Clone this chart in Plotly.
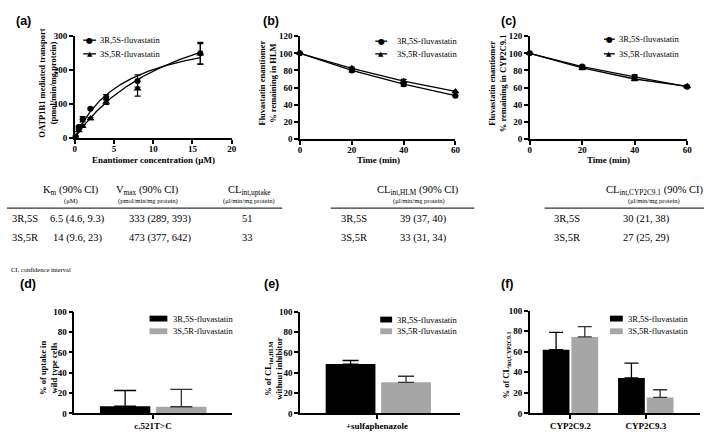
import numpy as np
import plotly.graph_objects as go

W, H = 709, 433
SERIF = "Liberation Serif, Times New Roman, serif"
SANS = "Liberation Sans, Arial, sans-serif"
GRAY = "#a6a6a6"

# ---------------- data ----------------
series_names = ["3R,5S-fluvastatin", "3S,5R-fluvastatin"]

# (a) OATP1B1 uptake
conc_uM = [0.1, 0.5, 1, 2, 4, 8, 16]
uptake_3R5S = [4, 32, 55, 86, 120, 168, 250]
uptake_3R5S_err = [2, 3, 8, 3, 8, 18, 32]
uptake_3S5R = [2, 22, 35, 57, 106, 145, 248]
uptake_3S5R_err = [1, 3, 4, 3, 7, 22, 30]
km_uM = [6.5, 14]
vmax = [333, 473]

# (b) HLM depletion
time_min = [0, 20, 40, 60]
hlm_3R5S = [100, 80, 64, 50.5]
hlm_3R5S_err = [0, 2, 2.5, 1.5]
hlm_3S5R = [100, 82.5, 67.5, 55.5]
hlm_3S5R_err = [0, 1.5, 2, 1]

# (c) CYP2C9.1 depletion
cyp_3R5S = [100, 84.5, 72.5, 61]
cyp_3R5S_err = [0, 1.5, 2.5, 1.5]
cyp_3S5R = [100, 83, 70, 61.5]
cyp_3S5R_err = [0, 2, 2, 1.5]

# (d) variant uptake
d_cat = ["c.521T>C"]
d_3R5S = [7]
d_3R5S_err = [15.5]
d_3S5R = [6.5]
d_3S5R_err = [17]

# (e) inhibitor
e_cat = ["+sulfaphenazole"]
e_3R5S = [48.5]
e_3R5S_err = [3.5]
e_3S5R = [30.5]
e_3S5R_err = [6]

# (f) CYP2C9 variants
f_cat = ["CYP2C9.2", "CYP2C9.3"]
f_3R5S = [62, 34.5]
f_3R5S_err = [17, 14.5]
f_3S5R = [74.5, 15.5]
f_3S5R_err = [10, 7.5]

# tables
row_labels = ["3R,5S", "3S,5R"]
tab_a_km = ["6.5 (4.6, 9.3)", "14 (9.6, 23)"]
tab_a_vmax = ["333 (289, 393)", "473 (377, 642)"]
tab_a_cl = ["51", "33"]
tab_b_cl = ["39 (37, 40)", "33 (31, 34)"]
tab_c_cl = ["30 (21, 38)", "27 (25, 29)"]

# ---------------- helpers ----------------
def fx(px):
    return px / W

def fy(py):
    return 1 - py / H

annotations = []
shapes = []

def ann(text, x, y, size=9, xanchor="center", yanchor="middle", family=SERIF,
        bold=False, angle=0, color="black"):
    if bold:
        text = "<b>" + text + "</b>"
    annotations.append(dict(text=text, x=fx(x), y=fy(y), xref="paper", yref="paper",
                            xanchor=xanchor, yanchor=yanchor, showarrow=False,
                            textangle=angle,
                            font=dict(family=family, size=size, color=color)))

def hline(x0, x1, y, width=1.2, color="#333"):
    shapes.append(dict(type="line", xref="paper", yref="paper", x0=fx(x0), x1=fx(x1),
                       y0=fy(y), y1=fy(y), line=dict(color=color, width=width)))

def rect(x0, x1, y0, y1, color):
    shapes.append(dict(type="rect", xref="paper", yref="paper", x0=fx(x0), x1=fx(x1),
                       y0=fy(y1), y1=fy(y0), fillcolor=color, line=dict(width=0)))

def axis_style(domain, rng=None, tickvals=None, **kw):
    d = dict(domain=domain, showline=True, linecolor="black", linewidth=1.5,
             ticks="outside", ticklen=4, tickwidth=1.5, tickcolor="black",
             showgrid=False, zeroline=False, fixedrange=True,
             tickfont=dict(family=SERIF, size=9, color="black", weight="bold"))
    if rng is not None:
        d["range"] = rng
    if tickvals is not None:
        d["tickvals"] = tickvals
    d.update(kw)
    return d

fig = go.Figure()

def err(arr, w=3, color="black"):
    return dict(type="data", array=arr, visible=True, color=color, thickness=1.2, width=w)

# ---------------- (a) ----------------
fig.add_trace(go.Scatter(x=conc_uM, y=uptake_3R5S, mode="markers", xaxis="x", yaxis="y",
                         marker=dict(symbol="circle", size=6, color="black"),
                         error_y=err(uptake_3R5S_err), cliponaxis=False, showlegend=False))
fig.add_trace(go.Scatter(x=conc_uM, y=uptake_3S5R, mode="markers", xaxis="x", yaxis="y",
                         marker=dict(symbol="triangle-up", size=7, color="black"),
                         error_y=err(uptake_3S5R_err), cliponaxis=False, showlegend=False))
xfit = np.linspace(0, max(conc_uM), 200)
for km, vm in zip(km_uM, vmax):
    fig.add_trace(go.Scatter(x=xfit, y=vm * xfit / (km + xfit), mode="lines",
                             xaxis="x", yaxis="y", line=dict(color="black", width=1.3),
                             showlegend=False, hoverinfo="skip"))

# ---------------- (b) & (c) ----------------
for xa, ya, s1, e1, s2, e2 in [("x2", "y2", hlm_3R5S, hlm_3R5S_err, hlm_3S5R, hlm_3S5R_err),
                               ("x3", "y3", cyp_3R5S, cyp_3R5S_err, cyp_3S5R, cyp_3S5R_err)]:
    fig.add_trace(go.Scatter(x=time_min, y=s1, mode="lines+markers", xaxis=xa, yaxis=ya,
                             marker=dict(symbol="circle", size=6, color="black"),
                             line=dict(color="black", width=1.3),
                             error_y=err(e1), cliponaxis=False, showlegend=False))
    fig.add_trace(go.Scatter(x=time_min, y=s2, mode="lines+markers", xaxis=xa, yaxis=ya,
                             marker=dict(symbol="triangle-up", size=7, color="black"),
                             line=dict(color="black", width=1.3),
                             error_y=err(e2), cliponaxis=False, showlegend=False))

# ---------------- bars (d), (e), (f) ----------------
def bar_pair(xa, ya, cats, v1, e1, v2, e2, width, off1, off2, capw):
    fig.add_trace(go.Bar(x=cats, y=v1, xaxis=xa, yaxis=ya, marker=dict(color="black", line=dict(width=0)),
                         width=[width] * len(cats), offset=[off1] * len(cats),
                         error_y=dict(type="data", symmetric=False, array=e1, arrayminus=[0] * len(cats),
                                      color="black", thickness=1.3, width=capw),
                         showlegend=False))
    fig.add_trace(go.Bar(x=cats, y=v2, xaxis=xa, yaxis=ya, marker=dict(color=GRAY, line=dict(width=0)),
                         width=[width] * len(cats), offset=[off2] * len(cats),
                         error_y=dict(type="data", symmetric=False, array=e2, arrayminus=[0] * len(cats),
                                      color="#333", thickness=1.3, width=capw),
                         showlegend=False))

bar_pair("x4", "y4", d_cat, d_3R5S, d_3R5S_err, d_3S5R, d_3S5R_err, 0.32, -0.337, 0.02, 11)
bar_pair("x5", "y5", e_cat, e_3R5S, e_3R5S_err, e_3S5R, e_3S5R_err, 0.31, -0.32, 0.026, 8)
bar_pair("x6", "y6", f_cat, f_3R5S, f_3R5S_err, f_3S5R, f_3S5R_err, 0.355, -0.368, 0.013, 7)

# ---------------- axes ----------------
layout_axes = dict(
    xaxis=axis_style([fx(73.5), fx(232)], [0, 20], [0, 5, 10, 15, 20], anchor="y", ticklabelstandoff=-2),
    yaxis=axis_style([fy(136), fy(32)], [0, 300], [0, 100, 200, 300], anchor="x"),
    xaxis2=axis_style([fx(301), fx(458)], [0, 60], [0, 20, 40, 60], anchor="y2", ticklabelstandoff=-2),
    yaxis2=axis_style([fy(137), fy(32)], [0, 120], [0, 20, 40, 60, 80, 100, 120], anchor="x2"),
    xaxis3=axis_style([fx(533), fx(692)], [0, 60], [0, 20, 40, 60], anchor="y3", ticklabelstandoff=-2),
    yaxis3=axis_style([fy(137), fy(32)], [0, 120], [0, 20, 40, 60, 80, 100, 120], anchor="x3"),
    xaxis4=axis_style([fx(73), fx(232)], [-0.5, 0.5], None, anchor="y4", type="category", ticklabelstandoff=-1),
    yaxis4=axis_style([fy(418), fy(314)], [0, 100], [0, 20, 40, 60, 80, 100], anchor="x4"),
    xaxis5=axis_style([fx(301), fx(463)], [-0.48, 0.52], None, anchor="y5", type="category", ticklabelstandoff=-1),
    yaxis5=axis_style([fy(418), fy(314)], [0, 100], [0, 20, 40, 60, 80, 100], anchor="x5"),
    xaxis6=axis_style([fx(533), fx(705)], [-0.54, 1.72], None, anchor="y6", type="category", ticklabelstandoff=-1),
    yaxis6=axis_style([fy(418), fy(313)], [0, 100], [0, 20, 40, 60, 80, 100], anchor="x6"),
)

# ---------------- axis titles ----------------
ann("OATP1B1 mediated transport<br>(pmol/min/mg protein)", 46, 80, 8.5, bold=True, angle=-90)
ann("Enantiomer concentration (μM)", 153, 159, 9, bold=True)
ann("Fluvastatin enantiomer<br>% remaining in HLM", 268, 80, 8.5, bold=True, angle=-90)
ann("Time (min)", 380, 159, 9, bold=True)
ann("Fluvastatin enantiomer<br>% remaining in CYP2C9.1", 500, 80, 8.5, bold=True, angle=-90)
ann("Time (min)", 613, 159, 9, bold=True)
ann("% of uptake in<br>wild type cells", 47, 372, 8.5, bold=True, angle=-90)
ann("% of CL<sub>int,HLM</sub><br>without inhibitor", 274, 372, 8.5, bold=True, angle=-90)
ann("% of CL<sub>int,CYP2C9.1</sub>", 510, 368, 8.5, bold=True, angle=-90)

# ---------------- panel labels ----------------
for lab, x, y in [("(a)", 12, 16), ("(b)", 262, 16), ("(c)", 502, 16),
                  ("(d)", 16, 286), ("(e)", 263, 286), ("(f)", 502, 286)]:
    ann(lab, x, y, 12.5, xanchor="left", family=SANS, bold=True)

# ---------------- line legends (a)(b)(c) ----------------
for (lx0, lx1, tx, y1, y2) in [(82, 95, 97, 36, 50), (377, 389, 397, 37, 50), (608, 619, 621, 35, 50)]:
    for y, glyph, gs in [(y1, "●", 8), (y2, "▲", 7)]:
        hline(lx0, lx1, y, width=1.3, color="black")
        ann(glyph, (lx0 + lx1) / 2, y, gs, family="DejaVu Sans")
    ann(series_names[0], tx, y1, 8.5, xanchor="left")
    ann(series_names[1], tx, y2, 8.5, xanchor="left")

# ---------------- bar legends (d)(e)(f) ----------------
for (bx0, bx1, tx, y1, y2) in [(149, 167, 171, 321, 334), (382, 394, 397, 322, 334), (614, 627, 630, 321, 334)]:
    rect(bx0, bx1, y1 - 3, y1 + 3, "black")
    rect(bx0, bx1, y2 - 3, y2 + 3, GRAY)
    ann(series_names[0], tx, y1, 8.5, xanchor="left")
    ann(series_names[1], tx, y2, 8.5, xanchor="left")

# ---------------- tables ----------------
TS = 10.5
ann("K<sub>m</sub> (90% CI)", 70, 190, TS)
ann("(μM)", 70, 201, 6.5)
ann("V<sub>max</sub> (90% CI)", 147, 190, TS)
ann("(pmol/min/mg protein)", 147, 201, 6.5)
ann("CL<sub>int,uptake</sub>", 250, 190, TS)
ann("(μl/min/mg protein)", 249, 201, 6.5)
hline(5, 283, 208)
for i, ry in enumerate([219, 238]):
    ann(row_labels[i], 8, ry, TS, xanchor="left")
    ann(tab_a_km[i], 76, ry, TS)
    ann(tab_a_vmax[i], 160, ry, TS)
    ann(tab_a_cl[i], 240, ry, TS, xanchor="left")

ann("CL<sub>int,HLM</sub> (90% CI)", 420, 190, TS)
ann("(μl/min/mg protein)", 421, 201, 6.5)
hline(332, 477, 208)
for i, ry in enumerate([219, 238]):
    ann(row_labels[i], 340, ry, TS, xanchor="left")
    ann(tab_b_cl[i], 400, ry, TS, xanchor="left")

ann("CL<sub>int,CYP2C9.1</sub> (90% CI)", 660, 190, TS)
ann("(μl/min/mg protein)", 658, 201, 6.5)
hline(548, 709, 208)
for i, ry in enumerate([219, 238]):
    ann(row_labels[i], 555, ry, TS, xanchor="left")
    ann(tab_c_cl[i], 625, ry, TS, xanchor="left")

ann("CI, confidence interval", 7, 271, 6.5, xanchor="left")

fig.update_layout(
    width=W, height=H, margin=dict(l=0, r=0, t=0, b=0),
    paper_bgcolor="white", plot_bgcolor="white",
    barmode="overlay", showlegend=False,
    annotations=annotations, shapes=shapes,
    font=dict(family=SERIF, color="black"),
    **layout_axes,
)

fig.write_html("out.html", config={"displayModeBar": False},
               post_script="document.body.style.margin='0px';")
